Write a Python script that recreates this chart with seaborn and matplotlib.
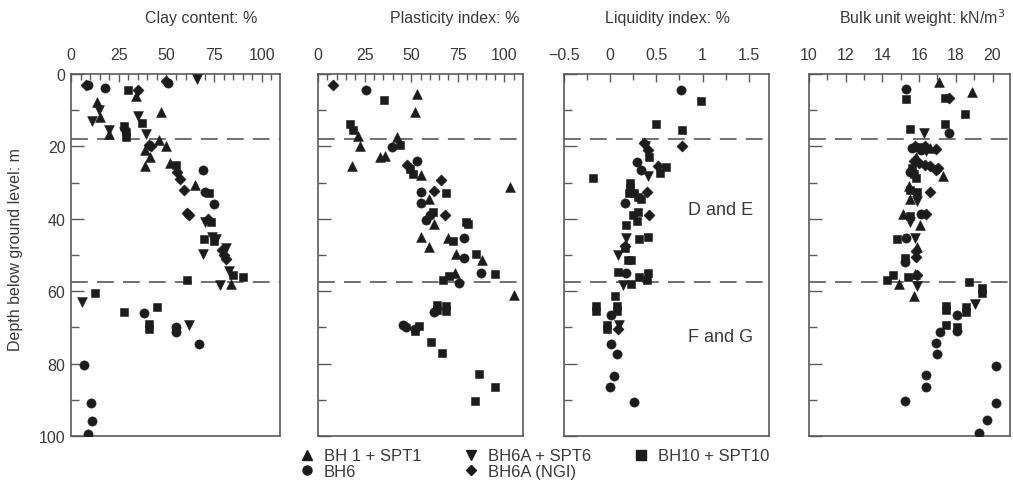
import numpy as np
import pandas as pd
import matplotlib
matplotlib.use("Agg")
import matplotlib.pyplot as plt
from matplotlib.lines import Line2D
from matplotlib import font_manager
import seaborn as sns

# ---------------- data (value, depth m) ----------------
series_names = ["BH 1 + SPT1", "BH6", "BH6A + SPT6", "BH6A (NGI)", "BH10 + SPT10"]

# Clay content (%)
clay_bh1 = [13.5, 15, 20, 34, 47, 46, 39, 41.5, 39, 50, 52, 65, 84]
clay_bh1_d = [7.7, 12, 16.5, 6, 10.6, 18.3, 21, 23, 25.5, 20, 24.5, 30.7, 58]
clay_bh6 = [9, 18, 51, 69, 70, 75, 38.5, 55, 55, 67, 7, 10.5, 11, 9]
clay_bh6_d = [3, 4, 2.5, 26.5, 32.6, 36, 66, 70, 71.3, 74.5, 80.4, 90.8, 95.8, 99.5]
clay_bh6a = [66, 14.5, 11, 20, 28, 35, 39.5, 70, 74, 76, 69, 81, 83, 78, 6, 62]
clay_bh6a_d = [1.5, 10, 13, 15.5, 16, 11.7, 16.6, 41, 45, 45.5, 49.6, 48, 54.5, 58.4, 63, 69.3]
clay_ngi = [8, 35, 50, 41, 42, 55.5, 57, 59, 61, 62, 72, 79, 80, 81]
clay_ngi_d = [3, 4.5, 2, 19.5, 20, 27.2, 29, 32, 38.5, 39, 40, 48.5, 50, 51]
clay_bh10 = [30, 28, 29, 29, 37, 55, 72.5, 73.5, 69.5, 75, 85, 90, 61, 12.5, 28, 41, 41, 45]
clay_bh10_d = [4.5, 14.5, 16, 17.5, 13.4, 25, 33, 41, 45.7, 46, 55.5, 56, 56.8, 60.5, 65.7, 69, 70.5, 64.5]

# Plasticity index (%)
pi_bh1 = [53, 52, 21.5, 22.5, 18.5, 33, 36, 42.5, 55.5, 59.5, 62.5, 103, 55.5, 69.5, 59.5, 74, 88, 73.5, 105]
pi_bh1_d = [5.5, 10.4, 17, 20, 25.4, 23, 22.7, 17.5, 28, 34.6, 41.5, 31.2, 45, 45.2, 47.7, 49.6, 51.4, 55, 61]
pi_bh6 = [25.5, 39.5, 53, 55.5, 55.5, 60, 58, 78.5, 78.5, 87.5, 75.5, 62, 45.5, 47, 52]
pi_bh6_d = [4.4, 20.3, 24, 32.6, 35.7, 39, 40.2, 45.4, 50.8, 55.1, 57.7, 65.8, 69.3, 70, 70.5]
pi_bh6a = []
pi_bh6a_d = []
pi_ngi = [8, 48, 66, 62.5, 68]
pi_ngi_d = [3, 25, 29.3, 32.3, 39]
pi_bh10 = [35.5, 17, 19, 44, 49.5, 51, 68.5, 61.5, 79.5, 80.5, 72.5, 85, 95, 67, 70.5,
           64, 64, 68.5, 68.5, 52, 54, 60.5, 66.5, 86.5, 95, 84.5]
pi_bh10_d = [7.2, 13.7, 15.5, 19.5, 26.3, 27.5, 33, 38, 41, 41.5, 46, 49.6, 55.2, 56.8, 55.7,
             63.8, 65.3, 64, 65.5, 71, 69.7, 74, 77, 83, 86.5, 90.2]

# Liquidity index
li_bh1 = []
li_bh1_d = []
li_bh6 = [0.77, 0.29, 0.33, 0.16, 0.17, 0.01, 0.01, 0.07, 0.04, 0.0, 0.26]
li_bh6_d = [4.3, 24.2, 26.6, 35.7, 55.1, 66.5, 74.5, 77.3, 83.3, 86.6, 90.5]
li_bh6a = [0.38, 0.41, 0.17, 0.08, 0.14, 0.10]
li_bh6a_d = [20, 28.2, 45.4, 50, 58.2, 69.3]
li_ngi = [0.78, 0.37, 0.41, 0.52, 0.40, 0.42, 0.08, 0.16]
li_ngi_d = [20, 19, 21, 25.4, 32.5, 39, 70.5, 47.5]
li_bh10 = [0.98, 0.50, 0.78, 0.42, -0.19, 0.60, 0.54, 0.22, 0.22, 0.20, 0.26, 0.30, 0.33, 0.30,
           0.25, 0.29, 0.17, 0.31, 0.41, 0.16, 0.19, 0.23, 0.08, 0.31, 0.41, 0.40, 0.23, 0.05,
           -0.15, -0.15, 0.07, 0.07, -0.03, -0.03]
li_bh10_d = [7.4, 13.9, 15.4, 23, 28.6, 25.6, 27.4, 30, 31.5, 33, 33, 34, 34.6, 38.1,
             39, 40.5, 41.6, 45.7, 45, 48, 51.4, 51.5, 54.8, 56, 55, 56.8, 58, 61.4,
             64, 65.5, 64.2, 65.6, 69.3, 70.5]

# Bulk unit weight (kN/m3)
buw_bh1 = [17.1, 18.9, 16.6, 15.85, 17.3, 15.45, 15.5, 15.1, 16.07, 15.9, 14.9, 15.8, 15.7]
buw_bh1_d = [2.3, 5, 20.5, 23, 28.3, 31, 34.6, 38.8, 41.8, 47.7, 58, 55.2, 61.4]
buw_bh6 = [15.3, 17.6, 15.6, 16.1, 15.5, 16.1, 15.3, 15.25, 18.05, 18.05, 17.15, 16.9, 16.99,
           16.36, 16.36, 15.24, 20.17, 20.17, 19.72, 19.27]
buw_bh6_d = [4.2, 16.3, 20.5, 21, 27, 38.8, 45.3, 52, 66.5, 71.1, 71.4, 74.3, 77.3,
             83.1, 86.5, 90.3, 80.6, 90.8, 95.6, 99.3]
buw_bh6a = [16.25, 16.4, 15.9, 15.5, 15.8, 15.86, 19.05]
buw_bh6a_d = [16.3, 21.3, 35, 41, 45.3, 58.6, 63.4]
buw_ngi = [17.6, 15.8, 16.3, 16.9, 15.7, 16.0, 16.3, 16.6, 16.9, 17.05, 16.57, 16.4, 15.85, 15.85, 15.9]
buw_ngi_d = [6.5, 20, 20, 20.7, 24, 24.5, 25, 25.5, 26.5, 25.9, 32.5, 38.8, 49, 50.5, 55.5]
buw_bh10 = [15.3, 17.4, 18.5, 17.4, 15.5, 16.0, 15.6, 15.7, 15.83, 15.5, 15.9, 15.5, 14.8,
            15.25, 14.25, 14.57, 15.38, 18.7, 19.45, 19.45, 18.55, 18.55, 17.45, 17.45, 17.45, 18.05]
buw_bh10_d = [6.9, 6.5, 11, 13.9, 15.2, 20.3, 26, 27.5, 28.6, 32, 32.5, 39.3, 45.7,
              50.8, 56.8, 55.4, 56.1, 57.4, 59, 60.5, 64.5, 65.8, 64, 65.3, 69.3, 70]

panel_titles = ["Clay content: %", "Plasticity index: %", "Liquidity index: %",
                "Bulk unit weight: kN/m$^3$"]
y_label = "Depth below ground level: m"
boundary_depths = [18, 57.5]
zone_labels = ["D and E", "F and G"]
zone_label_depths = [37.4, 72.5]

panels = [
    [(clay_bh1, clay_bh1_d), (clay_bh6, clay_bh6_d), (clay_bh6a, clay_bh6a_d), (clay_ngi, clay_ngi_d), (clay_bh10, clay_bh10_d)],
    [(pi_bh1, pi_bh1_d), (pi_bh6, pi_bh6_d), (pi_bh6a, pi_bh6a_d), (pi_ngi, pi_ngi_d), (pi_bh10, pi_bh10_d)],
    [(li_bh1, li_bh1_d), (li_bh6, li_bh6_d), (li_bh6a, li_bh6a_d), (li_ngi, li_ngi_d), (li_bh10, li_bh10_d)],
    [(buw_bh1, buw_bh1_d), (buw_bh6, buw_bh6_d), (buw_bh6a, buw_bh6a_d), (buw_ngi, buw_ngi_d), (buw_bh10, buw_bh10_d)],
]

# ---------------- style ----------------
sns.set_style("ticks")
installed = {f.name for f in font_manager.fontManager.ttflist}
fam = "Liberation Sans Narrow" if "Liberation Sans Narrow" in installed else "Liberation Sans"
plt.rcParams["font.family"] = [fam, "DejaVu Sans"]
text_col = "#3a3a3a"
mark_col = "#1c1c1c"
spine_col = "#5a5a5a"

markers = {"BH 1 + SPT1": "^", "BH6": "o", "BH6A + SPT6": "v",
           "BH6A (NGI)": "D", "BH10 + SPT10": "s"}
msize = {"^": 50, "o": 44, "v": 50, "D": 32, "s": 40}

fig = plt.figure(figsize=(10.13, 4.89), dpi=100)
W, H = 1013, 489
boxes = [(71, 280), (318, 523), (564, 769), (809, 1010)]
top_px, bot_px = 75, 437
xlims = [(0, 109.5), (0, 110), (-0.5, 1.72), (10, 20.95)]
major = [np.arange(0, 101, 25), np.arange(0, 101, 25), np.array([-0.5, 0, 0.5, 1, 1.5]), np.arange(10, 21, 2)]
minor = [np.arange(0, 106, 5), np.arange(0, 106, 5), np.arange(-0.25, 1.6, 0.25), np.arange(11, 21, 1)]
major_lbl = [["0", "25", "50", "75", "100"], ["0", "25", "50", "75", "100"],
             ["\u22120.5", "0", "0.5", "1", "1.5"], ["10", "12", "14", "16", "18", "20"]]
title_x = [201, 455, 667, 922]

for i, (x0, x1) in enumerate(boxes):
    ax = fig.add_axes([x0 / W, 1 - bot_px / H, (x1 - x0) / W, (bot_px - top_px) / H])
    rows = []
    for name, (vals, deps) in zip(series_names, panels[i]):
        for v, d in zip(vals, deps):
            rows.append({"value": v, "depth": d, "series": name})
    df = pd.DataFrame(rows)
    for name in series_names:
        sub = df[df["series"] == name]
        if len(sub) == 0:
            continue
        m = markers[name]
        sns.scatterplot(data=sub, x="value", y="depth", marker=m, s=msize[m],
                        color=mark_col, edgecolor=mark_col, linewidth=0.4,
                        legend=False, ax=ax, zorder=3)
    for bd in boundary_depths:
        ax.axhline(bd, color="#4a4a4a", lw=1.1, ls=(0, (11, 6)), zorder=2)
    ax.set_xlim(*xlims[i])
    ax.set_ylim(100, 0)
    ax.set_xlabel("")
    ax.set_ylabel("")
    ax.xaxis.tick_top()
    ax.set_xticks(major[i])
    ax.set_xticklabels(major_lbl[i])
    ax.set_xticks([t for t in minor[i] if not np.any(np.isclose(t, major[i]))], minor=True)
    ax.set_yticks(np.arange(0, 101, 20))
    ax.set_yticks(np.arange(10, 100, 20), minor=True)
    ax.tick_params(axis="both", which="both", direction="in", colors=spine_col,
                   labelcolor=text_col, labelsize=11.5, width=1.0)
    ax.tick_params(axis="x", which="major", length=6, pad=9)
    ax.tick_params(axis="x", which="minor", length=4)
    ax.tick_params(axis="y", which="major", length=9, pad=4)
    ax.tick_params(axis="y", which="minor", length=6)
    if i > 0:
        ax.tick_params(axis="y", which="both", labelleft=False)
    for sp in ax.spines.values():
        sp.set_visible(True)
        sp.set_color(spine_col)
        sp.set_linewidth(1.2)
    fig.text(title_x[i] / W, 1 - 18 / H, panel_titles[i], ha="center", va="center",
             fontsize=11.5, color=text_col)
    if i == 2:
        for lbl, dd in zip(zone_labels, zone_label_depths):
            ax.text(1.2, dd, lbl, ha="center", va="center", fontsize=13, color=text_col)

fig.text(16 / W, 1 - 250 / H, y_label, rotation=90, ha="center", va="center",
         fontsize=11.5, color=text_col)

handles = [Line2D([], [], ls="none", marker=markers[n], color=mark_col, markersize=6.5 if markers[n] != "D" else 5.5)
           for n in series_names]
fig.legend(handles, series_names, loc="upper left", bbox_to_anchor=(292 / W, 1 - 441 / H),
           ncol=3, frameon=False, fontsize=12, handlelength=0.8, handletextpad=0.6,
           columnspacing=2.6, labelspacing=0.05, borderpad=0, labelcolor=text_col)

fig.savefig("out.png", dpi=100)
